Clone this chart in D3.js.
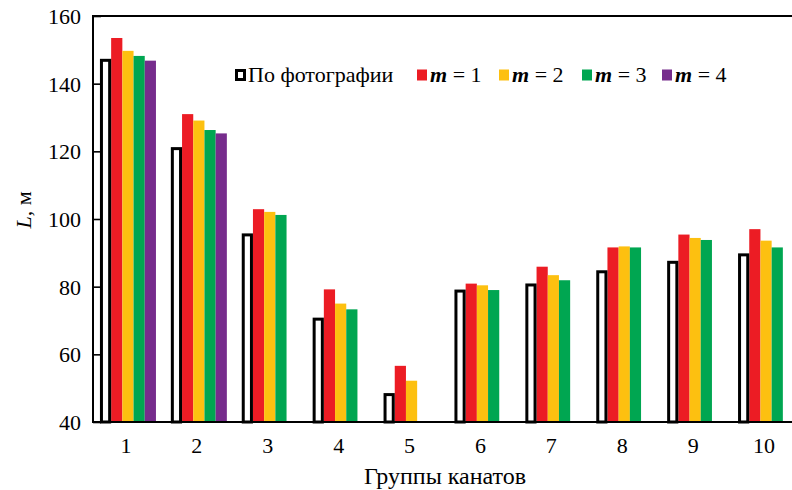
<!DOCTYPE html>
<html>
<head>
<meta charset="utf-8">
<script src="https://cdn.jsdelivr.net/npm/d3@7"></script>
<style>
  body { margin: 0; background: #fff; }
</style>
</head>
<body>
<div id="chart"></div>
<script>
// Chart data
var groups = ["1", "2", "3", "4", "5", "6", "7", "8", "9", "10"];
var photo = [146.9, 120.8, 95.3, 70.4, 48.1, 78.7, 80.5, 84.4, 87.2, 89.4];
var m1 = [153.5, 131.0, 102.9, 79.2, 56.6, 80.9, 85.9, 91.6, 95.4, 97.0];
var m2 = [149.7, 129.1, 102.1, 75.0, 52.2, 80.4, 83.4, 91.9, 94.4, 93.6];
var m3 = [148.2, 126.3, 101.2, 73.3, null, 79.0, 81.9, 91.6, 93.8, 91.6];
var m4 = [146.8, 125.3, null, null, null, null, null, null, null, null];
var yTicks = [40, 60, 80, 100, 120, 140, 160];

var seriesKeys = ["photo", "m1", "m2", "m3", "m4"];
var seriesValues = { photo: photo, m1: m1, m2: m2, m3: m3, m4: m4 };
var colors = { photo: "#fff", m1: "#ec1c24", m2: "#fdc010", m3: "#00a651", m4: "#762c8c" };

var serif = "Liberation Serif";

// SVG area
var svgWidth = 792;
var svgHeight = 490;

var margin = { top: 16, left: 93, bottom: 68 };
var plotBottom = svgHeight - margin.bottom;

var svg = d3.select("#chart")
  .append("svg")
  .attr("width", svgWidth)
  .attr("height", svgHeight)
  .attr("font-family", serif);

// scales
var yScale = d3.scaleLinear()
  .domain([40, 160])
  .range([plotBottom, margin.top]);

var xGroup = d3.scaleBand()
  .domain(groups)
  .range([92.5, 801.5]);

var xSub = d3.scaleBand()
  .domain(seriesKeys)
  .range([0, xGroup.bandwidth()])
  .paddingOuter(0.665);

// flatten to one record per bar
var bars = [];
groups.forEach(function(g, i) {
  seriesKeys.forEach(function(k) {
    var v = seriesValues[k][i];
    if (v !== null) bars.push({ group: g, key: k, value: v });
  });
});

// coloured bars
svg.append("g")
  .selectAll("rect")
  .data(bars.filter(d => d.key !== "photo"))
  .enter()
  .append("rect")
  .attr("x", d => xGroup(d.group) + xSub(d.key))
  .attr("y", d => yScale(d.value))
  .attr("width", xSub.bandwidth())
  .attr("height", d => plotBottom - yScale(d.value))
  .attr("fill", d => colors[d.key]);

// outlined "photo" bars
svg.append("g")
  .selectAll("rect")
  .data(bars.filter(d => d.key === "photo"))
  .enter()
  .append("rect")
  .attr("x", d => xGroup(d.group) + xSub(d.key) + 1.5)
  .attr("y", d => yScale(d.value))
  .attr("width", xSub.bandwidth() - 3)
  .attr("height", d => plotBottom - yScale(d.value))
  .attr("fill", "#fff")
  .attr("stroke", "#000")
  .attr("stroke-width", 3);

// top frame line (runs off to the right)
svg.append("line")
  .attr("x1", margin.left).attr("x2", svgWidth)
  .attr("y1", margin.top).attr("y2", margin.top)
  .attr("stroke", "#000").attr("stroke-width", 2);

// y axis, ticks pointing inward
var leftAxis = d3.axisRight(yScale)
  .tickValues(yTicks)
  .tickSize(8)
  .tickFormat(d3.format("d"));

var yAxis = svg.append("g")
  .attr("transform", `translate(${margin.left}, 0)`)
  .call(leftAxis)
  .attr("font-family", serif)
  .attr("font-size", 22);

yAxis.select(".domain").remove();
yAxis.selectAll(".tick line").attr("stroke", "#000").attr("stroke-width", 1.6);
yAxis.selectAll(".tick text")
  .attr("x", -12)
  .attr("dy", "0.34em")
  .attr("text-anchor", "end")
  .attr("fill", "#000");

svg.append("line")
  .attr("x1", margin.left).attr("x2", margin.left)
  .attr("y1", margin.top - 1).attr("y2", plotBottom + 1)
  .attr("stroke", "#000").attr("stroke-width", 2);

// x axis
var bottomAxis = d3.axisBottom(xGroup).tickSize(0);

var xAxis = svg.append("g")
  .attr("transform", `translate(0, ${plotBottom})`)
  .call(bottomAxis)
  .attr("font-family", serif)
  .attr("font-size", 22);

xAxis.select(".domain").remove();
xAxis.selectAll(".tick text")
  .attr("y", 0)
  .attr("dy", 31)
  .attr("dx", -2)
  .attr("fill", "#000");

svg.append("line")
  .attr("x1", margin.left - 1).attr("x2", svgWidth)
  .attr("y1", plotBottom).attr("y2", plotBottom)
  .attr("stroke", "#000").attr("stroke-width", 2);

// axis titles
svg.append("text")
  .attr("x", 445)
  .attr("y", 484)
  .attr("text-anchor", "middle")
  .attr("font-size", 24)
  .text("Группы канатов");

var yTitle = svg.append("text")
  .attr("transform", "translate(31, 210) rotate(-90)")
  .attr("text-anchor", "middle")
  .attr("font-size", 22);
yTitle.append("tspan").attr("font-style", "italic").text("L");
yTitle.append("tspan").text(", м");

// legend
var legendItems = [
  { key: "photo", label: "По фотографии", m: null },
  { key: "m1", label: " = 1", m: "m" },
  { key: "m2", label: " = 2", m: "m" },
  { key: "m3", label: " = 3", m: "m" },
  { key: "m4", label: " = 4", m: "m" }
];
var legendX = [235, 417, 499, 582, 662];

var legend = svg.append("g")
  .attr("transform", "translate(0, 75)");

legendItems.forEach(function(item, i) {
  var g = legend.append("g")
    .attr("transform", `translate(${legendX[i]}, 0)`);
  if (item.key === "photo") {
    g.append("rect")
      .attr("x", 1.5).attr("y", -4.5)
      .attr("width", 8).attr("height", 9)
      .attr("fill", "#fff")
      .attr("stroke", "#000")
      .attr("stroke-width", 3);
  } else {
    g.append("rect")
      .attr("x", 0).attr("y", -5.5)
      .attr("width", 10).attr("height", 11)
      .attr("fill", colors[item.key]);
  }
  var t = g.append("text")
    .attr("x", 13)
    .attr("y", 7)
    .attr("font-size", 22);
  if (item.m) {
    t.append("tspan").attr("font-style", "italic").attr("font-weight", "bold").text(item.m);
  }
  t.append("tspan").text(item.label);
});
</script>
</body>
</html>
